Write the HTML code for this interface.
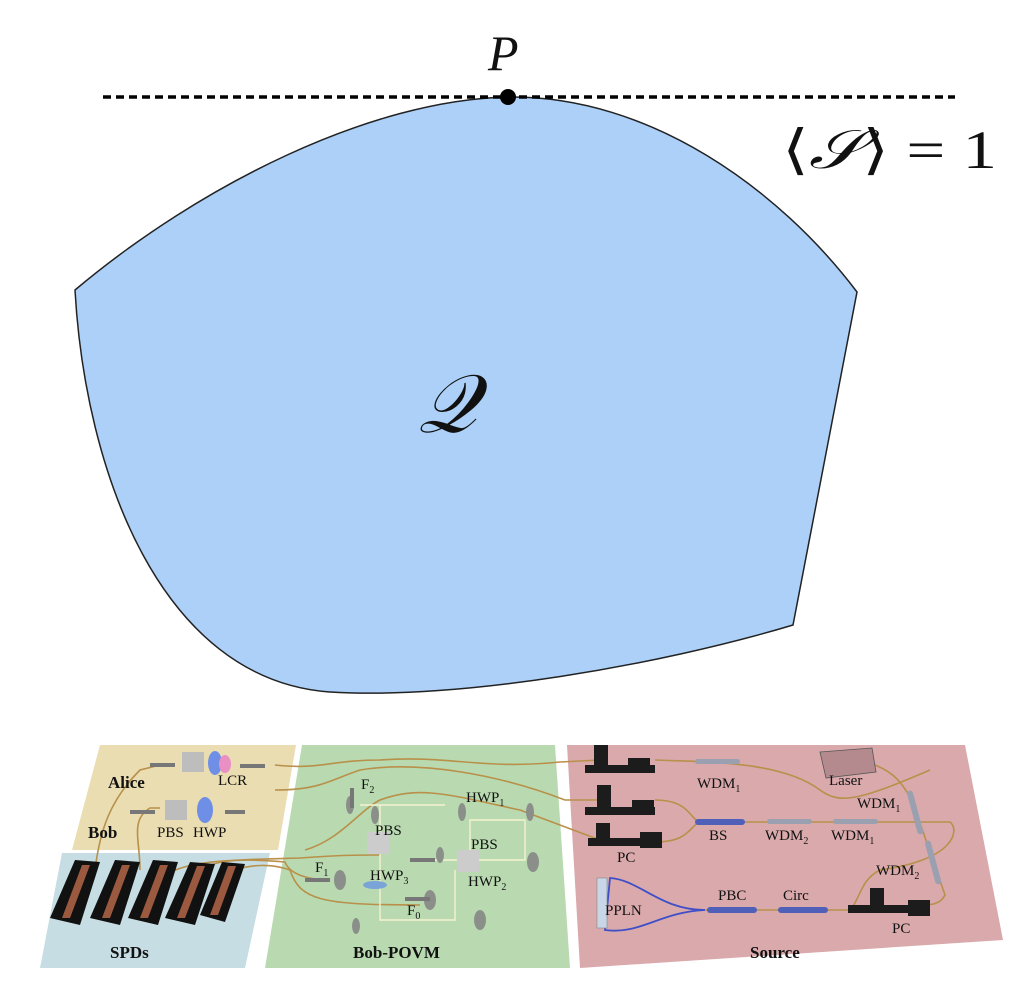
<!DOCTYPE html>
<html><head><meta charset="utf-8"><style>
html,body{margin:0;padding:0;background:#fff;}
svg{display:block;}
text{font-family:"Liberation Serif",serif;fill:#111;}
</style></head><body>
<svg width="1024" height="992" viewBox="0 0 1024 992" xmlns="http://www.w3.org/2000/svg">
<!-- Q region -->
<path d="M75,290 C 200,185 370,100 508,97 C 650,95 780,190 857,292 L 793,625 C 660,665 460,700 330,692 C 160,680 85,470 75,290 Z" fill="#acd0f7" stroke="#222" stroke-width="1.5"/>
<line x1="103" y1="97" x2="955" y2="97" stroke="#000" stroke-width="3.5" stroke-dasharray="8,5"/>
<circle cx="508" cy="97" r="8" fill="#000"/>
<text x="488" y="70" font-size="50" font-style="italic">P</text>
<text x="782" y="168" font-size="54" textLength="215" lengthAdjust="spacingAndGlyphs">⟨<tspan font-style="italic">𝒮</tspan>⟩ = 1</text>
<text x="418" y="432" font-size="82" font-style="italic">𝒬</text>

<!-- panels -->
<polygon points="100,745 296,745 278,850 72,850" fill="#e9ddb1"/>
<polygon points="62,853 270,853 245,968 40,968" fill="#c6dde3"/>
<polygon points="302,745 555,745 570,968 265,968" fill="#b9dab0"/>
<polygon points="567,745 965,745 1003,940 580,968" fill="#d9a9ac"/>

<!-- fibers -->
<g fill="none" stroke="#b8904a" stroke-width="1.6">
<path d="M275,765 C 320,770 330,760 380,760 C 450,755 480,770 560,762 L 600,760"/>
<path d="M275,790 C 320,790 330,780 360,770 C 420,760 500,775 565,800 L 600,800"/>
<path d="M305,850 C 340,840 360,810 380,800 C 420,785 450,795 520,810 L 600,840"/>
<path d="M95,870 C 100,830 110,800 140,770 L 160,765"/>
<path d="M140,870 C 140,840 130,820 150,808 L 160,808"/>
<path d="M165,875 C 190,860 230,860 300,858 C 340,855 360,855 380,855"/>
<path d="M200,872 C 210,860 240,858 285,862 C 290,875 310,880 330,880"/>
<path d="M235,870 C 250,865 270,863 290,870 C 300,900 320,905 420,905"/>
<path d="M655,760 C 700,762 780,760 820,790 C 840,805 860,800 930,770"/>
<path d="M655,800 C 690,800 690,820 700,822 L 950,822 C 960,830 955,860 880,870 C 860,880 860,900 850,910"/>
<path d="M875,765 C 900,775 905,790 912,800 L 945,895 C 940,905 930,905 920,905"/>
<path d="M655,842 C 690,842 690,825 700,822"/>
<path d="M705,910 L 850,910"/>
</g>
<path d="M705,910 C 660,910 640,880 610,878 L 605,930 C 640,935 660,912 705,910" fill="none" stroke="#3f4fc8" stroke-width="1.8"/>
<rect x="597" y="878" width="10" height="50" fill="#c9d6e8" stroke="#888" stroke-width="0.6"/>
<g fill="#5060b8"><rect x="707" y="907" width="50" height="6" rx="3"/><rect x="778" y="907" width="50" height="6" rx="3"/><rect x="695" y="819" width="50" height="6" rx="3"/></g>
<g fill="#9aa0b0"><rect x="695" y="759" width="45" height="5" rx="2.5"/><rect x="767" y="819" width="45" height="5" rx="2.5"/><rect x="833" y="819" width="45" height="5" rx="2.5"/><rect x="912" y="790" width="6" height="45" rx="3" transform="rotate(-15 915 812)"/><rect x="930" y="840" width="6" height="45" rx="3" transform="rotate(-15 933 862)"/></g>
<!-- laser -->
<polygon points="820,752 872,748 876,772 826,778" fill="#b58a8e" stroke="#555" stroke-width="0.8"/>
<!-- PCs -->
<g fill="#1c1c1c">
<rect x="585" y="765" width="70" height="8"/><rect x="594" y="745" width="14" height="20"/><rect x="628" y="758" width="22" height="14"/>
<rect x="585" y="807" width="70" height="8"/><rect x="597" y="785" width="14" height="22"/><rect x="632" y="800" width="22" height="14"/>
<rect x="588" y="838" width="70" height="8"/><rect x="596" y="823" width="14" height="16"/><rect x="640" y="832" width="22" height="16"/>
<rect x="848" y="905" width="75" height="8"/><rect x="870" y="888" width="14" height="17"/><rect x="908" y="900" width="22" height="16"/>
</g>
<!-- SPDs -->
<g fill="#111">
<polygon points="50,918 75,860 100,862 80,925"/><polygon points="90,918 115,860 140,862 120,925"/><polygon points="128,918 153,860 178,862 158,925"/><polygon points="165,918 190,862 215,864 195,925"/><polygon points="200,915 222,862 245,864 225,922"/>
</g>
<g fill="#9b5a3f"><polygon points="62,918 82,865 90,865 70,918"/><polygon points="102,918 122,865 130,865 110,918"/><polygon points="140,918 160,865 168,865 148,918"/><polygon points="177,918 197,866 205,866 185,918"/><polygon points="210,915 228,866 236,866 218,915"/></g>
<!-- Bob-POVM optics -->
<g fill="none" stroke="#f5f2d0" stroke-width="1.4">
<path d="M360,805 L 445,805 M 380,805 L 380,920 L 455,920 L 455,870 M 470,820 L 525,820 L 525,860 L 470,860 Z M 430,860 L 470,860"/>
</g>
<g fill="#8a8f8a"><rect x="367" y="832" width="22" height="22" fill="#ccc"/><rect x="457" y="850" width="22" height="22" fill="#ccc"/>
<ellipse cx="340" cy="880" rx="6" ry="10"/><ellipse cx="430" cy="900" rx="6" ry="10"/><ellipse cx="350" cy="805" rx="4" ry="9"/><ellipse cx="375" cy="815" rx="4" ry="9"/><ellipse cx="462" cy="812" rx="4" ry="9"/><ellipse cx="530" cy="812" rx="4" ry="9"/><ellipse cx="533" cy="862" rx="6" ry="10"/><ellipse cx="480" cy="920" rx="6" ry="10"/><ellipse cx="356" cy="926" rx="4" ry="8"/><ellipse cx="440" cy="855" rx="4" ry="8"/></g>
<ellipse cx="375" cy="885" rx="12" ry="4" fill="#7aa3d8"/>
<!-- Alice/Bob optics -->
<rect x="182" y="752" width="22" height="20" fill="#bdbdbd"/><ellipse cx="215" cy="763" rx="7" ry="12" fill="#6f8fe6"/><ellipse cx="225" cy="764" rx="6" ry="9" fill="#e98fc4"/>
<rect x="165" y="800" width="22" height="20" fill="#bdbdbd"/><ellipse cx="205" cy="810" rx="8" ry="13" fill="#6f8fe6"/>
<g fill="#777"><rect x="150" y="763" width="25" height="4"/><rect x="240" y="764" width="25" height="4"/><rect x="130" y="810" width="25" height="4"/><rect x="225" y="810" width="20" height="4"/><rect x="305" y="878" width="25" height="4"/><rect x="405" y="897" width="25" height="4"/><rect x="410" y="858" width="25" height="4"/><rect x="350" y="788" width="4" height="20"/></g>
<!-- labels -->
<g font-size="15">
<text x="108" y="788" font-weight="bold" font-size="17">Alice</text>
<text x="88" y="838" font-weight="bold" font-size="17">Bob</text>
<text x="218" y="785">LCR</text>
<text x="157" y="837">PBS</text><text x="193" y="837">HWP</text>
<text x="110" y="958" font-weight="bold" font-size="17">SPDs</text>
<text x="353" y="958" font-weight="bold" font-size="17">Bob-POVM</text>
<text x="361" y="789">F<tspan font-size="10" dy="4">2</tspan></text>
<text x="375" y="835">PBS</text>
<text x="466" y="802">HWP<tspan font-size="10" dy="4">1</tspan></text>
<text x="471" y="849">PBS</text>
<text x="315" y="872">F<tspan font-size="10" dy="4">1</tspan></text>
<text x="370" y="880">HWP<tspan font-size="10" dy="4">3</tspan></text>
<text x="468" y="886">HWP<tspan font-size="10" dy="4">2</tspan></text>
<text x="407" y="915">F<tspan font-size="10" dy="4">0</tspan></text>
<text x="697" y="788">WDM<tspan font-size="10" dy="4">1</tspan></text>
<text x="829" y="785">Laser</text>
<text x="857" y="808">WDM<tspan font-size="10" dy="4">1</tspan></text>
<text x="709" y="840">BS</text>
<text x="765" y="840">WDM<tspan font-size="10" dy="4">2</tspan></text>
<text x="831" y="840">WDM<tspan font-size="10" dy="4">1</tspan></text>
<text x="876" y="875">WDM<tspan font-size="10" dy="4">2</tspan></text>
<text x="617" y="862">PC</text>
<text x="605" y="915">PPLN</text>
<text x="718" y="900">PBC</text>
<text x="783" y="900">Circ</text>
<text x="892" y="933">PC</text>
<text x="750" y="958" font-weight="bold" font-size="17">Source</text>
</g>
</svg>
</body></html>
